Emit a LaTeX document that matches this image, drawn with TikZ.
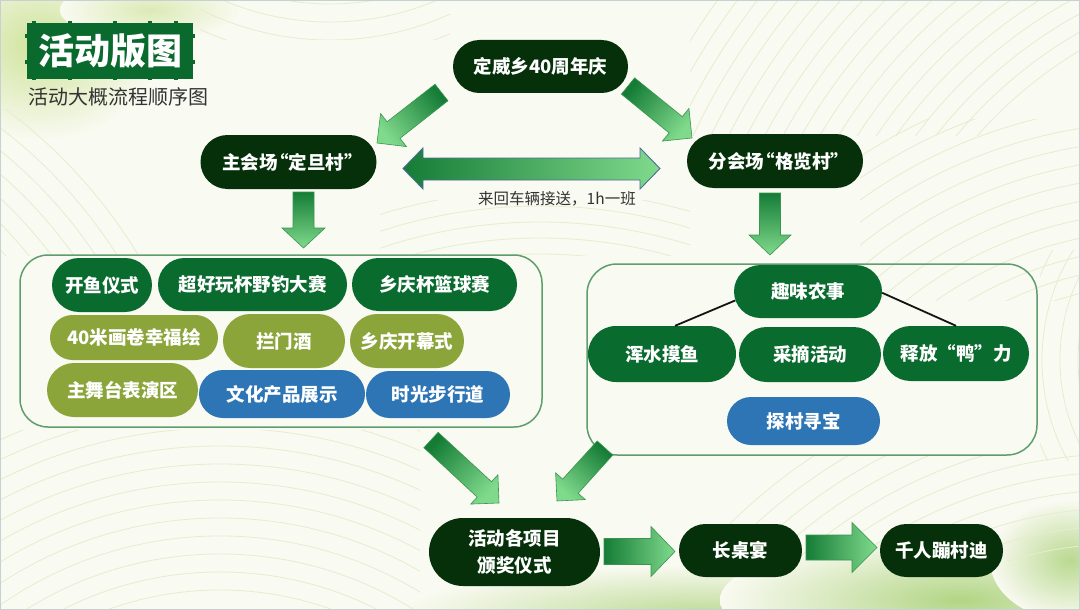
\documentclass[tikz,border=0pt]{standalone}
\usepackage{fontspec}
\setmainfont{Noto Sans CJK SC}
\usetikzlibrary{shapes.misc,calc}
\definecolor{bgc}{HTML}{F9FAF1}
\definecolor{ndark}{HTML}{05300A}
\definecolor{ngreen}{HTML}{0A6B2F}
\definecolor{nolive}{HTML}{8BA53A}
\definecolor{nblue}{HTML}{2E75B6}
\definecolor{boxline}{HTML}{5E9E6E}
\definecolor{leafc}{HTML}{E6EDCF}
\definecolor{arrdark}{HTML}{157C36}
\definecolor{arrlight}{HTML}{80DA8C}
\definecolor{arredge}{HTML}{3A9550}
\definecolor{dbledge}{HTML}{4E6C9C}
\definecolor{titleg}{HTML}{0A6A2E}
\definecolor{splash}{HTML}{CFE39B}
\definecolor{splashb}{HTML}{B2D585}
\definecolor{frame}{HTML}{C6D1D1}
\definecolor{txtgrey}{HTML}{333333}

\newcommand\pfont{\bfseries\fontsize{18.5}{22}\selectfont}
\newcommand\myopenq{\kern-0.42em“}
\newcommand\myclosq{”\kern-0.42em}
% #1 tail, #2 tip, #3 shaft half width, #4 head half width, #5 head length, #6 style
\newcommand\blkarrow[6]{%
  \coordinate (bB) at ($(#2)!#5!(#1)$);
  \shadedraw[#6] ($(#1)!#3!90:(#2)$) -- ($(bB)!#3!90:(#2)$) -- ($(bB)!#4!90:(#2)$) -- (#2)
     -- ($(bB)!#4!-90:(#2)$) -- ($(bB)!#3!-90:(#2)$) -- ($(#1)!#3!-90:(#2)$) -- cycle;}

\tikzset{
  pill/.style={shape=rounded rectangle, inner sep=0pt, text=white, font=\pfont},
  nd/.style={pill, fill=ndark},
  ng/.style={pill, fill=ngreen},
  no/.style={pill, fill=nolive},
  nb/.style={pill, fill=nblue},
  grpbox/.style={draw=boxline, line width=1.5pt, rounded corners=28pt, inner sep=0pt},
  leaf/.style={draw=leafc, line width=0.8pt},
  barr/.style={top color=arrdark, bottom color=arrlight, draw=arredge, line width=0.6pt},
  conn/.style={draw=black!92, line width=1.8pt},
  tab/.style={fill=titleg},
}

\begin{document}
\begin{tikzpicture}[x=1pt,y=-1pt]
\useasboundingbox (0,0) rectangle (1080,610);
% ---------- background ----------
\begin{scope}
  \clip (0,0) rectangle (1080,610);
  \fill[bgc] (0,0) rectangle (1080,610);
  % watercolour splashes
  \shade[inner color=splash, outer color=bgc] (40,45) ellipse (120 and 95);
  \shade[inner color=splash!70!bgc, outer color=bgc] (150,10) ellipse (90 and 30);
  \shade[inner color=splashb!85!bgc, outer color=bgc] (700,615) ellipse (300 and 50);
  \shade[inner color=splashb, outer color=bgc] (960,600) ellipse (240 and 65);
  \shade[inner color=splashb!90!bgc, outer color=bgc] (1070,560) ellipse (80 and 60);
  % leaf-like line families
  \begin{scope}
    \clip (690,0) rectangle (1080,135);
    \foreach \r in {430,446,...,720} \draw[leaf] (1300,420) circle (\r);
  \end{scope}
  \begin{scope}
    \clip (860,120) rectangle (1080,300);
    \foreach \r in {300,318,...,560} \draw[leaf] (1160,620) circle (\r);
  \end{scope}
  \begin{scope}
    \clip (0,110) rectangle (200,255);
    \foreach \r in {260,278,...,520} \draw[leaf] (-300,520) circle (\r);
  \end{scope}
  \begin{scope}
    \clip (200,0) rectangle (450,40);
    \foreach \r in {200,218,...,420} \draw[leaf] (330,-250) circle (\r);
  \end{scope}
  \begin{scope}
    \clip (0,430) rectangle (420,610);
    \foreach \r in {330,348,...,620} \draw[leaf] (220,920) circle (\r);
  \end{scope}
  \begin{scope}
    \clip (380,200) rectangle (690,255);
    \foreach \r in {450,466,...,580} \draw[leaf] (540,720) circle (\r);
  \end{scope}
  \begin{scope}
    \clip (620,455) rectangle (1080,560);
    \foreach \r in {340,358,...,560} \draw[leaf] (1120,920) circle (\r);
  \end{scope}
  \begin{scope}
    \clip (1040,250) rectangle (1080,460);
    \foreach \r in {100,118,...,300} \draw[leaf] (1250,360) circle (\r);
  \end{scope}
\end{scope}
\draw[frame, line width=2pt] (0,0) rectangle (1080,610);

% ---------- title ----------
\node[fill=titleg, minimum width=166, minimum height=56, inner sep=0pt,
      text=white, font=\bfseries\fontsize{36}{40}\selectfont] (title) at (110,51) {活动版图};
\foreach \tx in {34,70,115,150,176}{
  \fill[tab] (\tx-2,21.5) rectangle (\tx+2,23.5);
  \fill[tab] (\tx-2,78.5) rectangle (\tx+2,80.5);}
\foreach \ty in {36,62}{
  \fill[tab] (25,\ty-2) rectangle (27,\ty+2);
  \fill[tab] (193,\ty-2) rectangle (195,\ty+2);}
\node[anchor=west, inner sep=0pt, text=txtgrey, font=\fontsize{20}{24}\selectfont] (subt) at (28,97) {活动大概流程顺序图};

% ---------- group boxes ----------
\node[grpbox, minimum width=522, minimum height=172] (lbox) at (281,341) {};
\node[grpbox, minimum width=450, minimum height=191, rounded corners=30pt] (rbox) at (812,359.5) {};

% ---------- main nodes ----------
\node[nd, minimum width=175, minimum height=53] (top) at (540.5,66.5) {定威乡40周年庆};
\node[nd, minimum width=176, minimum height=54] (main) at (288.5,162) {主会场\myopenq 定旦村\myclosq};
\node[nd, minimum width=176, minimum height=54] (sub) at (775,161) {分会场\myopenq 格览村\myclosq};

% left group
\node[ng, minimum width=100, minimum height=54] (kaiyu) at (102,285) {开鱼仪式};
\node[ng, minimum width=189, minimum height=53] (chaohao) at (252.5,284.5) {超好玩杯野钓大赛};
\node[ng, minimum width=165, minimum height=53] (lanqiu) at (434.5,284.5) {乡庆杯篮球赛};
\node[no, minimum width=168, minimum height=45] (huajuan) at (134,337.5) {40米画卷幸福绘};
\node[no, minimum width=122, minimum height=54] (lanmen) at (284,341) {拦门酒};
\node[no, minimum width=114, minimum height=54] (kaimu) at (407,341) {乡庆开幕式};
\node[no, minimum width=151, minimum height=54] (wutai) at (122.5,390) {主舞台表演区};
\node[nb, minimum width=166, minimum height=48] (wenhua) at (282,394) {文化产品展示};
\node[nb, minimum width=144, minimum height=47] (shiguang) at (438,394.5) {时光步行道};

% right group
\node[ng, minimum width=148, minimum height=53] (quwei) at (808,291.5) {趣味农事};
\node[ng, minimum width=148, minimum height=56] (hunshui) at (662,354) {浑水摸鱼};
\node[ng, minimum width=142, minimum height=55] (caizhai) at (810,354.5) {采摘活动};
\node[ng, minimum width=146, minimum height=55] (shifang) at (956,353.5) {释放“鸭”力};
\node[nb, minimum width=153, minimum height=48] (tancun) at (803.5,421) {探村寻宝};
\draw[conn] (quwei.187) -- ([xshift=13pt]hunshui.north);
\draw[conn] (quwei.359) -- (shifang.north);

% bottom
\node[nd, minimum width=171, minimum height=68, align=center,
      font=\bfseries\fontsize{18.5}{27}\selectfont] (award) at (514.5,552) {活动各项目\\颁奖仪式};
\node[nd, minimum width=123, minimum height=53] (feast) at (740.5,550.5) {长桌宴};
\node[nd, minimum width=123, minimum height=53] (disco) at (941.5,550.5) {千人蹦村迪};

% ---------- arrows ----------
\coordinate (a1t) at (441.5,92.5);  \coordinate (a1h) at (377,143);
\coordinate (a2t) at (628,86);      \coordinate (a2h) at (692,138);
\coordinate (a3t) at (303.5,192);   \coordinate (a3h) at (303.5,248);
\coordinate (a4t) at (770,193);     \coordinate (a4h) at (770,255);
\coordinate (a5t) at (431,440);     \coordinate (a5h) at (499,503);
\coordinate (a6t) at (605,448);     \coordinate (a6h) at (557,501);
\coordinate (a7t) at (604,551.5);   \coordinate (a7h) at (675,551.5);
\coordinate (a8t) at (806,547.5);   \coordinate (a8h) at (877,547.5);
\blkarrow{a1t}{a1h}{10.5pt}{21pt}{21pt}{barr, shading angle=-52}
\blkarrow{a2t}{a2h}{10.5pt}{21pt}{21pt}{barr, shading angle=51}
\blkarrow{a3t}{a3h}{10.5pt}{21.5pt}{20pt}{barr, shading angle=0}
\blkarrow{a4t}{a4h}{10.5pt}{21pt}{20pt}{barr, shading angle=0}
\blkarrow{a5t}{a5h}{10.5pt}{20pt}{20pt}{barr, shading angle=47}
\blkarrow{a6t}{a6h}{10.5pt}{20pt}{20pt}{barr, shading angle=-42}
\blkarrow{a7t}{a7h}{13pt}{25pt}{24pt}{barr, shading angle=90}
\blkarrow{a8t}{a8h}{12.5pt}{25pt}{25pt}{barr, shading angle=90}

% double arrow (shuttle)
\coordinate (dal) at (403,168.5);
\coordinate (dar) at (660,168.5);
\shadedraw[left color=arrdark, right color=arrlight, draw=dbledge, line width=0.9pt]
  (dal) -- ++(20,-20.5) -- ++(0,10) -- ($(dar)+(-20,-10.5)$) -- ++(0,-10) -- (dar)
  -- ++(-20,20.5) -- ++(0,-9) -- ($(dal)+(20,11.5)$) -- ++(0,9) -- cycle;
\node[text=txtgrey, font=\fontsize{15.5}{18}\selectfont, inner sep=0pt] (shuttle) at (557,198.5) {来回车辆接送，1h一班};
\end{tikzpicture}
\end{document}
